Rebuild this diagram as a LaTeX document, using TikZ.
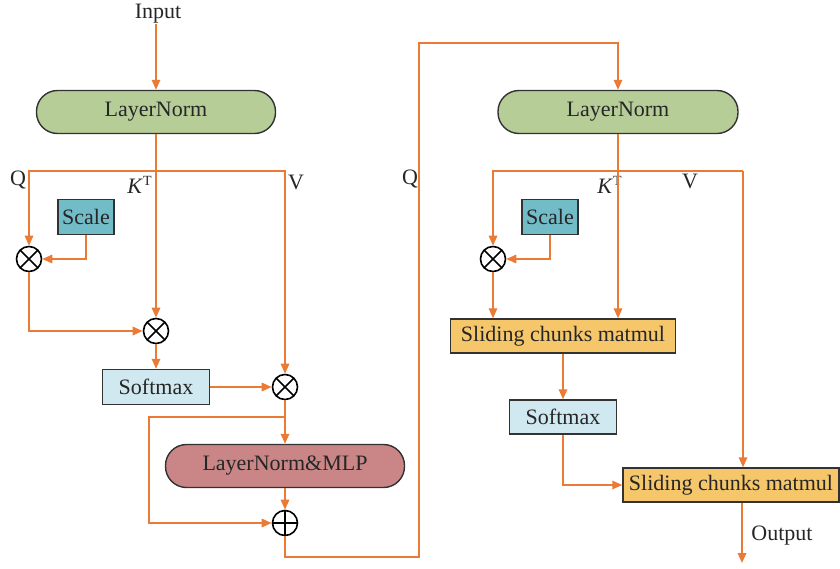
\documentclass[tikz,border=0pt]{standalone}
\usepackage{fontspec}
\setmainfont{Liberation Serif}
\usetikzlibrary{arrows.meta}
\definecolor{orln}{RGB}{234,122,52}
\definecolor{lngreen}{RGB}{183,205,152}
\definecolor{mlprose}{RGB}{202,134,134}
\definecolor{scteal}{RGB}{114,188,200}
\definecolor{smblue}{RGB}{208,232,239}
\definecolor{slgold}{RGB}{245,199,106}
\definecolor{bord}{RGB}{50,50,50}
\tikzset{
  arr/.style={draw=orln,line width=0.9pt,-{Triangle[length=5pt,width=4.2pt]}},
  ln/.style={draw=orln,line width=0.9pt},
  boxbase/.style={draw=bord,line width=0.7pt,inner sep=0pt,font=\fontsize{11}{13}\selectfont,text=black!85},
  capsule/.style={boxbase,rounded corners=10.5pt,minimum width=119.5pt,minimum height=21.5pt},
  rectbox/.style={boxbase,minimum height=17.5pt},
  opnode/.style={draw=black,line width=0.8pt,circle,minimum size=12.5pt,inner sep=0pt},
  mul/.style={opnode,path picture={\draw[black,line width=0.8pt]
     (path picture bounding box.north west)--(path picture bounding box.south east)
     (path picture bounding box.north east)--(path picture bounding box.south west);}},
  addop/.style={opnode,path picture={\draw[black,line width=0.8pt]
     (path picture bounding box.north)--(path picture bounding box.south)
     (path picture bounding box.east)--(path picture bounding box.west);}},
  lbl/.style={font=\fontsize{11}{13}\selectfont,inner sep=0pt,text=black!85}
}
\begin{document}
\begin{tikzpicture}[x=0.5pt,y=-0.5pt]
\useasboundingbox (0,0) rectangle (840,568);
% ---- left column ----
\node[lbl] (in) at (158,14) {Input};
\node[capsule,fill=lngreen] (ln1) at (156,112) {LayerNorm};
\node[rectbox,fill=scteal,minimum width=28pt] (sc1) at (86,217) {Scale};
\node[mul] (m1) at (29,259) {};
\node[mul] (m2) at (156,331) {};
\node[rectbox,fill=smblue,minimum width=53.5pt] (sm1) at (156,387) {Softmax};
\node[mul] (m3) at (285,387) {};
\node[capsule,fill=mlprose] (mlp) at (285,466) {LayerNorm\&MLP};
\node[addop] (p1) at (285,523) {};
\node[lbl] (q1) at (18,180) {Q};
\node[lbl] (k1) at (140,185) {\textit{K}\textsuperscript{\fontsize{7}{8}\selectfont T}};
\node[lbl] (v1) at (296,182) {V};
% ---- right column ----
\node[capsule,fill=lngreen,minimum width=120pt] (ln2) at (618,112) {LayerNorm};
\node[rectbox,fill=scteal,minimum width=28pt] (sc2) at (550,217) {Scale};
\node[mul] (m4) at (493,259) {};
\node[rectbox,fill=slgold,minimum width=112.5pt,minimum height=17pt] (sl1) at (563,336) {Sliding chunks matmul};
\node[rectbox,fill=smblue,minimum width=53.5pt,minimum height=17pt] (sm2) at (563,417) {Softmax};
\node[rectbox,fill=slgold,minimum width=108pt,minimum height=17pt] (sl2) at (731,485) {Sliding chunks matmul};
\node[lbl] (q2) at (410,179) {Q};
\node[lbl] (k2) at (610,185) {\textit{K}\textsuperscript{\fontsize{7}{8}\selectfont T}};
\node[lbl] (v2l) at (690,181) {V};
\node[lbl] (outl) at (782,536) {Output};
% ---- coordinates ----
\coordinate (s1) at (156,171);
\coordinate (s2) at (285,417);
\coordinate (r1) at (149,417);
\coordinate (c1) at (419,557);
\coordinate (c2) at (419,43);
\coordinate (s3) at (618,171);
\coordinate (v2) at (743,171);
\coordinate (out) at (742,563);
% ---- left connectors ----
\draw[arr] (in.south -| ln1.north) -- (ln1.north);
\draw[arr] (ln1.south) -- (m2.north);
\draw[arr] (s1) -| (m1.north);
\draw[arr] (s1) -| (m3.north);
\draw[arr] (sc1.south) |- (m1.east);
\draw[arr] (m1.south) |- (m2.west);
\draw[arr] (m2.south) -- (sm1.north);
\draw[arr] (sm1.east) -- (m3.west);
\draw[arr] (m3.south) -- (mlp.north);
\draw[arr] (s2) -- (r1) |- (p1.west);
\draw[arr] (mlp.south) -- (p1.north);
\draw[arr] (p1.south) |- (c1) -- (c2) -| (ln2.north);
% ---- right connectors ----
\draw[arr] (ln2.south) -- (ln2.south |- sl1.north);
\draw[arr] (s3) -| (m4.north);
\draw[ln] (s3) -- (v2);
\draw[arr] (v2) -- (v2 |- sl2.north);
\draw[arr] (sc2.south) |- (m4.east);
\draw[arr] (m4.south) -- (m4.south |- sl1.north);
\draw[arr] (sl1.south) -- (sm2.north);
\draw[arr] (sm2.south) |- (sl2.west);
\draw[arr] (out |- sl2.south) -- (out);
\end{tikzpicture}
\end{document}
